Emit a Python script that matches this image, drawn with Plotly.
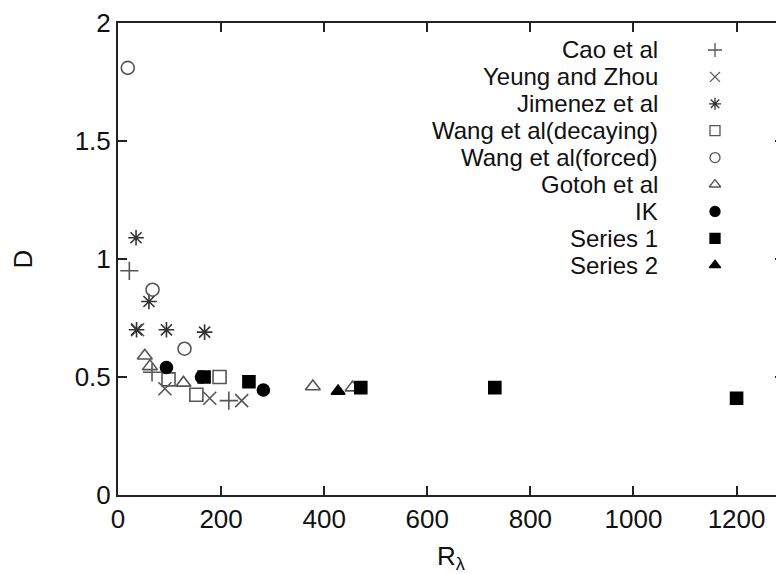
import plotly.graph_objects as go

# ---- data ----
cao_R = [22, 66, 215]
cao_D = [0.95, 0.52, 0.40]

yeung_R = [38, 91, 178, 240]
yeung_D = [0.70, 0.45, 0.41, 0.40]

jimenez_R = [35, 60, 36, 94, 168]
jimenez_D = [1.09, 0.82, 0.70, 0.70, 0.69]

wangd_R = [98, 152, 197]
wangd_D = [0.49, 0.425, 0.50]

wangf_R = [19, 67, 129]
wangf_D = [1.81, 0.87, 0.62]

gotoh_R = [52, 62, 127, 378, 455]
gotoh_D = [0.59, 0.545, 0.475, 0.46, 0.455]

ik_R = [94, 162, 282]
ik_D = [0.54, 0.50, 0.445]

series1_R = [167, 254, 471, 731, 1200]
series1_D = [0.50, 0.48, 0.455, 0.455, 0.41]

series2_R = [427]
series2_D = [0.44]

x_ticks = [0, 200, 400, 600, 800, 1000, 1200]
y_ticks = [0, 0.5, 1, 1.5, 2]
y_tick_text = ["0", "0.5", "1", "1.5", "2"]

series = [
    ("Cao et al", cao_R, cao_D, "cross-thin-open", "#555555"),
    ("Yeung and Zhou", yeung_R, yeung_D, "x-thin-open", "#555555"),
    ("Jimenez et al", jimenez_R, jimenez_D, "asterisk-open", "#333333"),
    ("Wang et al(decaying)", wangd_R, wangd_D, "square-open", "#555555"),
    ("Wang et al(forced)", wangf_R, wangf_D, "circle-open", "#555555"),
    ("Gotoh et al", gotoh_R, gotoh_D, "triangle-up-open", "#555555"),
    ("IK", ik_R, ik_D, "circle", "#000000"),
    ("Series 1", series1_R, series1_D, "square", "#000000"),
    ("Series 2", series2_R, series2_D, "triangle-up", "#000000"),
]

FONT = "Liberation Sans, Arial, Helvetica, sans-serif"
TXT = "#111111"

W, H = 776, 566
plot_l, plot_r, plot_t, plot_b = 110, 776, 15, 487

fig = go.Figure()
for name, xs, ys, sym, col in series:
    filled = not sym.endswith("open")
    fig.add_trace(go.Scatter(
        x=xs, y=ys, mode="markers", name=name, showlegend=False,
        marker=dict(symbol=sym, size=12 if filled else 13,
                    color=col, line=dict(color=col, width=1.6)),
    ))

# legend (text right-aligned, symbol to the right, gnuplot style)
n = len(series)
row_top = 50.0 - 8
row_step = 26.9
leg_x_text = (660 - 8 - plot_l) / (plot_r - plot_l)
leg_x_sym = (715 - 8 - plot_l) / (plot_r - plot_l)
leg_y = [(plot_b - (row_top + i * row_step)) / (plot_b - plot_t) for i in range(n)]

for i, (name, xs, ys, sym, col) in enumerate(series):
    fig.add_annotation(
        x=leg_x_text, y=leg_y[i], xref="paper", yref="paper",
        text=name, showarrow=False, xanchor="right", yanchor="middle",
        font=dict(family=FONT, size=24, color=TXT),
    )
    fig.add_trace(go.Scatter(
        x=[leg_x_sym], y=[leg_y[i]], xaxis="x2", yaxis="y2",
        mode="markers", showlegend=False, hoverinfo="skip",
        marker=dict(symbol=sym, size=10, color=col,
                    line=dict(color=col, width=1.3)),
    ))

axis_common = dict(
    showline=True, linecolor="#222222", linewidth=2, mirror="ticks",
    ticks="inside", ticklen=9, tickwidth=2, tickcolor="#222222",
    showgrid=False, zeroline=False,
    tickfont=dict(family=FONT, size=26, color=TXT),
)

fig.update_layout(
    width=W, height=H,
    margin=dict(l=plot_l, r=W - plot_r, t=plot_t, b=H - plot_b),
    paper_bgcolor="white", plot_bgcolor="white",
    showlegend=False,
    xaxis=dict(range=[0, 1292], tickvals=x_ticks,
               ticktext=[str(v) for v in x_ticks],
               automargin=False,
               title=dict(text="R<sub>λ</sub>", standoff=18,
                          font=dict(family=FONT, size=26, color=TXT)),
               **axis_common),
    yaxis=dict(range=[0, 2], tickvals=y_ticks, ticktext=y_tick_text,
               automargin=False,
               title=dict(text="D", standoff=40,
                          font=dict(family=FONT, size=26, color=TXT)),
               **axis_common),
    xaxis2=dict(overlaying="x", range=[0, 1], visible=False),
    yaxis2=dict(overlaying="y", range=[0, 1], visible=False),
)

fig.write_html("out.html")
